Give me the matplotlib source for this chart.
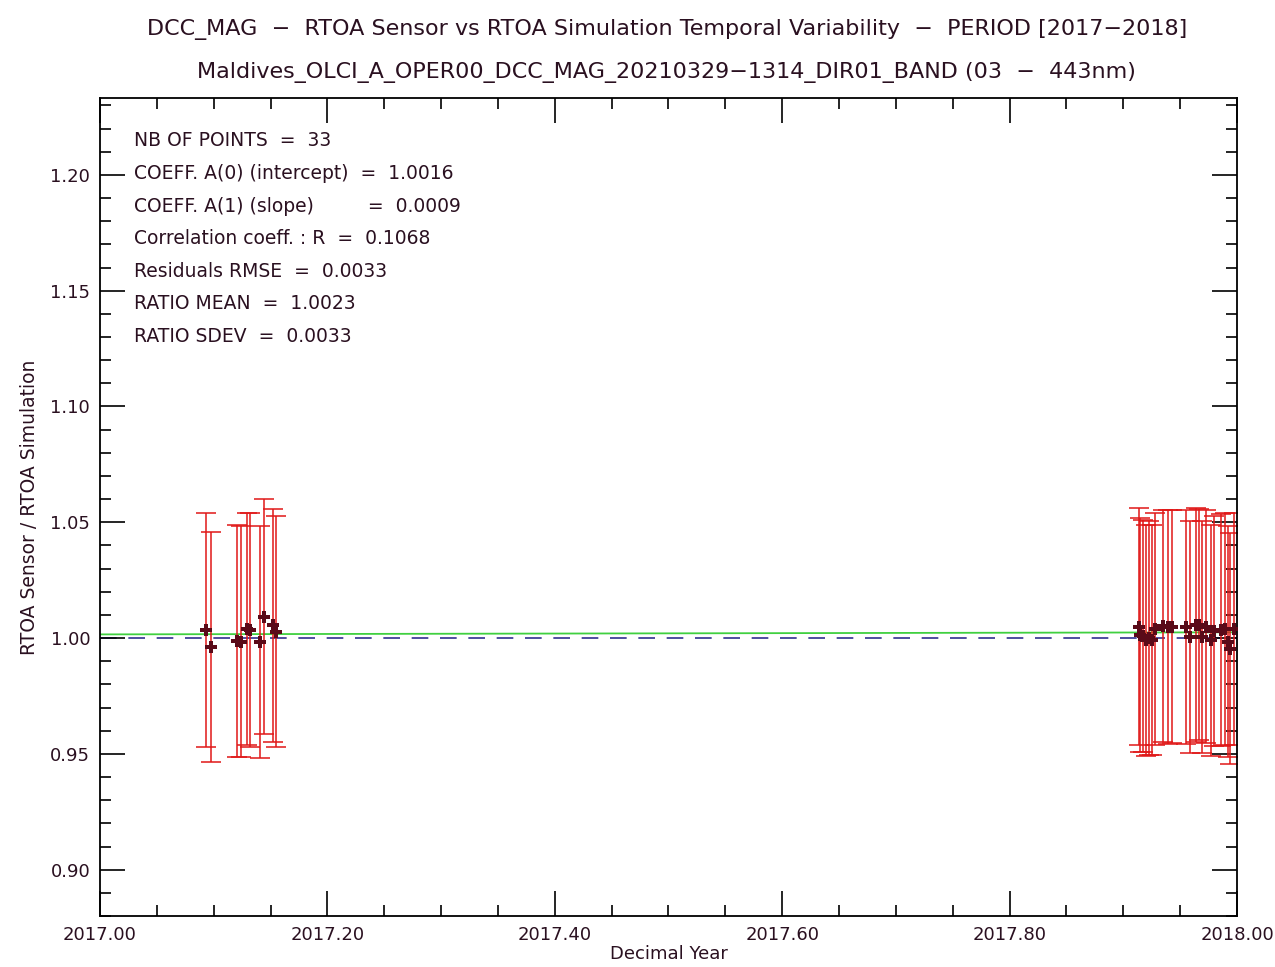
import numpy as np
import matplotlib
matplotlib.use("Agg")
import matplotlib.pyplot as plt
from matplotlib.ticker import MultipleLocator, FormatStrFormatter

# decimal year, ratio sensor/simulation, error half-width
years = [2017.0935, 2017.0980, 2017.1205, 2017.1240, 2017.1290, 2017.1320,
         2017.1405, 2017.1445, 2017.1520, 2017.1550,
         2017.9138, 2017.9147, 2017.9173, 2017.9199, 2017.9226, 2017.9252,
         2017.9279, 2017.9349, 2017.9393, 2017.9428, 2017.9551, 2017.9587,
         2017.9639, 2017.9666, 2017.9692, 2017.9727, 2017.9771, 2017.9798,
         2017.9859, 2017.9894, 2017.9921, 2017.9938, 2017.9974]
ratio = [1.0035, 0.9962, 0.9987, 0.9985, 1.0040, 1.0035,
         0.9983, 1.0092, 1.0055, 1.0028,
         1.0050, 1.0015, 1.0010, 0.9990, 1.0000, 0.9992,
         1.0040, 1.0052, 1.0048, 1.0050, 1.0048, 1.0005,
         1.0055, 1.0058, 1.0005, 1.0050, 0.9990, 1.0030,
         1.0035, 1.0040, 0.9985, 0.9955, 1.0040]
err = [0.0505, 0.0497, 0.0500, 0.0500, 0.0502, 0.0505,
       0.0500, 0.0508, 0.0503, 0.0500,
       0.0510, 0.0505, 0.0500, 0.0500, 0.0505, 0.0498,
       0.0500, 0.0502, 0.0505, 0.0505, 0.0505, 0.0500,
       0.0505, 0.0500, 0.0500, 0.0505, 0.0500, 0.0498,
       0.0502, 0.0500, 0.0500, 0.0498, 0.0500]

intercept = 1.0016
slope = 0.0009
stats = ["NB OF POINTS  =  33",
         "COEFF. A(0) (intercept)  =  1.0016",
         "COEFF. A(1) (slope)         =  0.0009",
         "Correlation coeff. : R  =  0.1068",
         "Residuals RMSE  =  0.0033",
         "RATIO MEAN  =  1.0023",
         "RATIO SDEV  =  0.0033"]

plt.rcParams['font.family'] = ['DejaVu Sans']
txt_col = '#2a1020'

fig = plt.figure(figsize=(12.75, 9.67), dpi=100)
ax = fig.add_axes([0.0784, 0.0527, 0.8918, 0.846])

ax.errorbar(years, ratio, yerr=err, fmt='none', ecolor='#e01818',
            elinewidth=1.1, capsize=7.5, capthick=1.1, zorder=2)
ax.plot(years, ratio, linestyle='none', marker='P', markersize=8.5,
        color='#5a0a18', markeredgewidth=0, zorder=3)

# linear fit and reference line
xfit = np.array([2017.0, 2018.0])
ax.plot(xfit, intercept + slope * (xfit - 2017.0), color='#40d040', lw=1.3, zorder=1)
ax.plot(xfit, [1.0, 1.0], color='#303090', lw=1.2, dashes=(10, 7), zorder=1)

ax.set_xlim(2017.0, 2018.0)
ax.set_ylim(0.880, 1.2332)
ax.xaxis.set_major_locator(MultipleLocator(0.2))
ax.xaxis.set_minor_locator(MultipleLocator(0.05))
ax.yaxis.set_major_locator(MultipleLocator(0.05))
ax.yaxis.set_minor_locator(MultipleLocator(0.01))
ax.xaxis.set_major_formatter(FormatStrFormatter('%.2f'))
ax.yaxis.set_major_formatter(FormatStrFormatter('%.2f'))
ax.tick_params(which='both', direction='in', top=True, right=True,
               labelsize=13, labelcolor=txt_col, width=1.2)
ax.tick_params(which='major', length=18, pad=7)
ax.tick_params(which='minor', length=8)
ax.set_yticks([t for t in ax.get_yticks() if 0.89 < t < 1.23])
for s in ax.spines.values():
    s.set_linewidth(1.3)

ax.set_xlabel("Decimal Year", fontsize=13, color=txt_col, labelpad=1)
ax.set_ylabel("RTOA Sensor / RTOA Simulation", fontsize=13.5, color=txt_col, labelpad=8)

fig.text(0.523, 0.969, "DCC_MAG  \u2212  RTOA Sensor vs RTOA Simulation Temporal Variability  \u2212  PERIOD [2017\u22122018]",
         ha='center', va='center', fontsize=16, color=txt_col)
fig.text(0.523, 0.925, "Maldives_OLCI_A_OPER00_DCC_MAG_20210329\u22121314_DIR01_BAND (03  \u2212  443nm)",
         ha='center', va='center', fontsize=16, color=txt_col)

for i, line in enumerate(stats):
    ax.text(0.0299, 0.9475 - i * 0.0398, line, transform=ax.transAxes,
            ha='left', va='center', fontsize=13.5, color=txt_col)

fig.savefig("out.png", dpi=100)
